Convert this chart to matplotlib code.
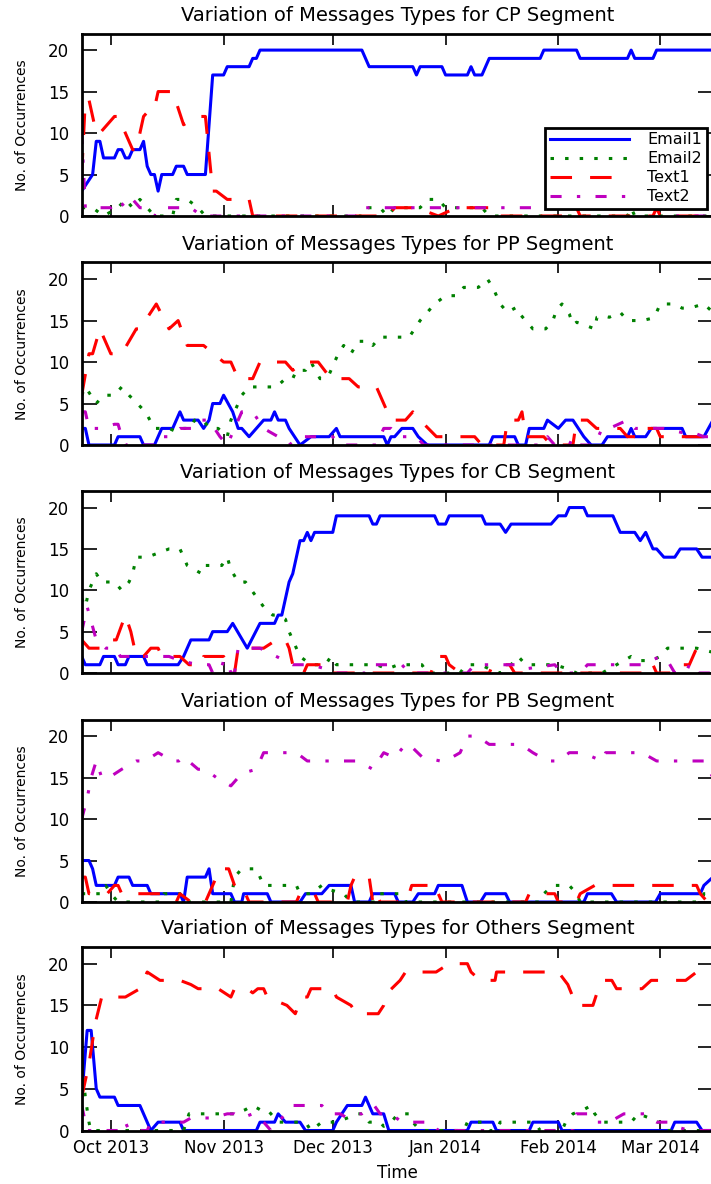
import matplotlib
matplotlib.use('Agg')
import matplotlib.pyplot as plt
import matplotlib.dates as mdates
import pandas as pd

plt.rcParams['font.family'] = ['DejaVu Sans']
plt.rcParams['lines.scale_dashes'] = False

START = pd.Timestamp('2013-09-23')
SERIES = ['Email1', 'Email2', 'Text1', 'Text2']
SEGMENTS = ['CP', 'PP', 'CB', 'PB', 'Others']

# ---- data: day offsets from START and values (vertices of each series) ----
# CP
cp_e1_d = [0,3,4,5,6,9,10,11,12,13,14,16,17,18,19,20,21,22,25,26,28,29,34,36,39,40,46,47,48,49,77,79,91,92,93,99,100,106,107,108,110,112,126,127,136,137,150,151,152,157,158,173.5]
cp_e1_v = [3,5,9,9,7,7,8,8,7,7,8,8,9,6,5,5,3,5,5,6,6,5,5,17,17,18,18,19,19,20,20,18,18,17,18,18,17,17,18,17,17,19,19,20,20,19,19,20,19,19,20,20]
cp_e2_d = [0,3,6,10,12,14,16,18,20,25,26,29,32,34,77,78,82,84,86,93,95,98,100,110,112,150,151,152,173.5]
cp_e2_v = [1,1,0,1,2,1,2,1,0,0,2,2,1,0,0,1,1,0,1,1,2,2,1,1,0,0,1,0,0]
cp_t1_d = [0,1,2,4,5,9,10,14,15,17,19,20,21,25,28,32,34,36,37,40,46,47,84,86,92,98,103,112,113,135,136,137,157,158,159,173.5]
cp_t1_v = [5,14,14,10,10,12,12,8,8,12,13,13,15,15,11,12,12,3,3,2,2,0,0,1,1,0,1,1,0,0,1,0,0,1,0,0]
cp_t2_d = [0,1,8,10,12,14,16,18,20,22,30,33,77,78,160,161,173.5]
cp_t2_v = [10,1,1,2,1,2,1,1,0,1,1,0,0,1,1,0,0]

# PP
pp_e1_d = [0,1,2,9,10,16,17,20,22,25,27,28,32,33.5,35,36,38,39,41.5,43,44,46,48,50,52,53,54,56,57,60,63,68,70,71,83,84,85,86,88,91,92.5,95,112,113,119,120,122,123,127,128,131,133,135,136.5,138,140,143,144.5,150,151,152,155,156.5,165,166,171,173.5]
pp_e1_v = [2,2,0,0,1,1,0,0,2,2,4,3,3,2,3,5,5,6,4,2,2,1,2,3,3,4,3,3,2,0,1,1,2,1,1,0,1,1,2,2,1,0,0,1,1,0,0,2,2,3,2,3,3,2,1,0,0,1,1,2,1,1,2,2,1,1,3]
pp_e2_d = [0,1,4,6,9,11,13,17.5,20,24,26.5,28,30,31,33.5,35,37.5,40,41,43,44,46,53.5,56,58,59,61.5,63,65.5,67,68,69.5,70.5,72,74,76,79,80,82,90,93,95,97,100,103,105,109,111.5,113,115,117,119.5,120,122,124,127.5,129.5,130.5,132,134,135,136,138,141,141.6,143,145,148,150,154,157,158,159,163,165,167,171,173.5]
pp_e2_v = [6,7,5,6,6,7,6,4,2,2,1.5,2,2,3,3,2,2,1,3,5,6,7,7,8,8,9,9,10,8,8,8.5,10,11,12,11,12.5,12.5,12,13,13,15,16,17,18,18,19,19,20,19,17,16,16.6,16,15,14,14,15,16.3,17,15.8,14.5,14.8,14.5,14,15.4,15.6,15.4,16,15,15,15.3,16,17,17,16.5,16.5,17,16]
pp_t1_d = [0,2,3,5,8,11,15,16,20.5,24,26.5,29,33.5,39,41,43,47,49,56,58,61,65,68.5,70,73.5,76,81,85,89,91,93,97.5,101.5,104,108,110,116,117,120,121,122,127,129,135,136,139,141.5,146,148,150,153,154,158,159,173.5]
pp_t1_v = [6,11,11,14,11,11,14,14,17,14,15,12,12,10,10,8,8,10,10,9,10,10,8,8,8,7,7,3,3,4,3,1,1,1,1,0,0,3,3,4,1,1,0,0,3,3,2,2,2,1,1,2,2,1,1]
pp_t2_d = [0,1,2,5,9,10,11,12,20,21,24,27,31,33,35,38,40,42,44,47,50,54,57,60,69,71,81,83,85,87,92,94,127,128,130,134,135,137,141,143,145,150,152,160,165,168,171,173.5]
pp_t2_v = [4,4,2,2,2.5,2.5,1,0,0,1,1,2,2,3,3,1,0,2,4,4,2,1,0,1,1,0,0,2,2,1,1,0,0,1,0,0,1,0,0,2,2,3,2,2,1.5,1.5,1,1]

# CB
cb_e1_d = [0,1,5,6,9,10,12,13,17,18,26.5,28,30,35,36,40,41.5,45.5,49,53,54,55,57,58,60,61,62,63,64,69,70,79,80,81,82,97,98,100,101,110,111,115,116.5,118,129,131,133,134,138,139,146,148,152,153.5,155,156,157,158,160,163,164.5,169,170.5,173.5]
cb_e1_v = [2,1,1,2,2,1,1,2,2,1,1,2,4,4,5,5,6,3,6,6,7,7,11,12,16,16,17,16,17,17,19,19,18,18,19,19,18,18,19,19,18,18,17,18,18,19,19,20,20,19,19,17,17,16,17,16,15,15,14,14,15,15,14,14]
cb_e2_d = [0,1,2,4,5.5,9,11,13,14,15,18,21,24,27,29,31,33,34,38.5,40,41,43,45,46.7,50,52.5,54,56,57,59,60,63,67,68.5,70,81,84,87,93.5,95,104,105.6,109.6,112,115,118,120,122,130,133.6,136,143,147,151,153,156.5,159,161,169,173.5]
cb_e2_v = [9,8,10,12,11,11,10,11,12,14,14,14.5,15,15,13,12.5,12,13,13,14,12.5,11,11,10,8,7,7,6.5,5,3,2,1,1,2,1,1,0.5,1,1,0,0,1,1,0.5,0,1,2,1,1,0.5,0,0,1,2,1.5,1.5,2,3,3,2.5]
cb_t1_d = [0,2,5.5,7,9.5,12,13.5,15,17,19,21,22,27,29.5,33,33.5,39,40,42,43,50,53.5,56,57,58,60,61,62,68,69,96,97.6,100,101,104,112,113,117.6,119,156,157,158,163,164.5,167,169,173.5]
cb_t1_v = [4,3,3,4,4,7,5,2,2,3,3,2,2,1,1,2,2,1,0,3,3,4,4,3,1,1,0,1,1,0,0,2,2,1,0,0,1,1,0,0,1,0,0,1,1,3,3]
cb_t2_d = [0,1.5,4,6.6,9.5,10.6,17,24,27,32,35,36,38,39,40,41,42,43,44,49,53.5,58,63,67,70,78,79,88,90,106,108,120,122,130,132,137,139,154,159,161,163,166,167,168,173.5]
cb_t2_v = [5,8,4,3,3,2,2,2,1.5,1,1,0,0,1.5,1.5,0,0,3,3,3,2,1,1,0.5,0,0,1,1,0,0,1,1,0.5,1,0,0,1,1,2,1.5,0,0,1,0,0]

# PB
pb_e1_d = [0,2,3,4,9,10,13,14,18,19,27,28,29,34,35,36,41,42,44,44.5,51,52,60,61.5,66,68,74,75,79,80,86,87,91,92.5,97,98,104.5,106,109.6,111,116.5,117.6,138,139,145.6,147,157.7,159,170,171,173.5]
pb_e1_v = [5,5,4,2,2,3,3,2,2,1,1,0,3,3,4,1,1,0,0,1,1,0,0,1,1,2,2,0,0,1,1,0,0,1,1,2,2,0,0,1,1,0,0,1,1,0,0,1,1,2,3]
pb_e2_d = [0,1,5.5,6.6,8,10,22,22.6,27,28,41,42,44,48,50,54.7,59,60,63,66,68,72,74,81,82,88,89,126,127,129.6,134,136,137,170,171,173.5]
pb_e2_v = [1,1,1,2,1,0,0,1,1,0,0,3,4,4,2,2,2,1,1,2,1.5,1,0,0,1,1,0,0,1,2,2,1,0,0,1,1]
pb_t1_d = [0,1,2,7,9,10,11,21,22,26,27,30,34,35,37,38,40.4,42,43,45,46,59,60,64,65,73,74,75,79,80,81,82,87,88,90,90.7,97.6,98,99,122,123,130,131,136,137,141,169,170,172,173.5]
pb_t1_v = [3,3,1,1,2,2,1,1,1,0,1,0,0,1,3,4,4,2,1,1,0,0,1,1,0,0,2,3,3,0,1,0,0,1,1,2,2,1,0,0,1,1,0,0,1,2,2,1,0,0]
pb_t2_d = [0,1.5,2.6,4,5.5,7.5,11,15,17.5,21,25,26.7,28,32,34,37,41,44,48,50,54,59,62,68,76,80,83,86,89,90,93.5,98.5,100,104,106,108.6,112,118,120.7,124,128,131,134,137.6,143,144,148,154,158,165,171,173.5]
pb_t2_v = [10,12.5,15,17,15,15,16,17,17,18,17,17,17.5,16,16,15,14,15.5,16,18,18,18,17,17,17,16,18,17.4,19,19,17.5,17,17,18,20,20,19,19,19,18,17,17,18,18,17,18,18,18,17,17,17,15]

# Others
ot_e1_d = [0,1.5,2.6,4,5,9,10,16,18,19,21,27,28,48,49,53,54,56,60,61.5,69,70,73,77,78,80,83,84.4,106,107,113,114,123,124,131,132,162,163,169,170.5,173.5]
ot_e1_v = [4,12,12,5,4,4,3,3,1,0,1,1,0,0,1,1,2,1,1,0,0,1,3,3,4,2,2,0,0,1,1,0,0,1,1,0,0,1,1,0,0]
ot_e2_d = [0,1,2,2.5,28,29.5,40,42,45,47,49,51,52,54,61.5,63,66,67,70,73,76,77.6,79,82,83,85,87,90,91,93,105,106,110,112,114,115,124.5,126,132,133,135,138,140,141,143,146,148,151,153,156,158,159,161,173.5]
ot_e2_v = [8,4,1,0,0,2,2,2,2.5,3,2.5,2.5,2,1,1,0,1,1,1,1.5,2,2,1,1,0.5,1,2,2,1,0,0,1,1,0,0,1,1,0,0,1,2,2.5,3,2,1,1,1,1,2,1.5,1,1,0,0]
ot_t1_d = [0,2,3.8,5.5,12,14,16,18,21.5,27,30,32,37.5,41,42,45.5,47,48.4,50,51,56.4,58.7,60.4,62,63,69,70,74,75.6,81.5,83,84,87.5,89,97.4,101,106,107,109.5,113.6,114,119,125,131,133.6,135,136,140.5,142,143.4,145.7,147,152,154,156.5,161,164.5,166,169,173.5]
ot_t1_v = [4,8,13,16,16,16.5,17,19,18,18,17.5,17,17,16,17,17,16.5,17,17,16,15,14,16,16,17,17,16,15,14,14,15,16.5,18,19,19,20,20,19,18,18,19,19,19,19,17.5,16,15,15,17,18,18,17,17,17,18,18,18,18,19,19]
ot_t2_d = [0,1.5,11,12,13,18,19,27,28,30,33,36,40,42,44,47,50,52,56,58,60,63,66,68,71,73,76,77,80.4,82,85,88,92,96,98,135,136,139.5,141,145,147,149,155,156,158,161,163,167,173.5]
ot_t2_v = [3,0,0,1,0,0,1,1,1,1.5,1.5,1.5,2,2,1.5,2,1,0,2,3,3,3,3,2,2,1.5,2,2,3,2,2,1,1,1,0,0,2,2,1,1,1.5,2,2,1.5,1,1,0.5,0,0]

DATA = {
    'CP': [(cp_e1_d, cp_e1_v), (cp_e2_d, cp_e2_v), (cp_t1_d, cp_t1_v), (cp_t2_d, cp_t2_v)],
    'PP': [(pp_e1_d, pp_e1_v), (pp_e2_d, pp_e2_v), (pp_t1_d, pp_t1_v), (pp_t2_d, pp_t2_v)],
    'CB': [(cb_e1_d, cb_e1_v), (cb_e2_d, cb_e2_v), (cb_t1_d, cb_t1_v), (cb_t2_d, cb_t2_v)],
    'PB': [(pb_e1_d, pb_e1_v), (pb_e2_d, pb_e2_v), (pb_t1_d, pb_t1_v), (pb_t2_d, pb_t2_v)],
    'Others': [(ot_e1_d, ot_e1_v), (ot_e2_d, ot_e2_v), (ot_t1_d, ot_t1_v), (ot_t2_d, ot_t2_v)],
}

STYLES = [
    dict(color=(0, 0, 1), linestyle='-'),
    dict(color=(0, 0.5, 0), dashes=(2.5, 8.0), dash_capstyle='butt'),
    dict(color=(1, 0, 0), dashes=(15.5, 13.0), dash_capstyle='butt'),
    dict(color=(0.75, 0, 0.75), dashes=(8.0, 11.0, 2.4, 11.0), dash_capstyle='butt'),
]

W, H = 711, 1184
fig = plt.figure(figsize=(W / 100, H / 100), dpi=100)

left_px, right_px = 81.7, 713.0
panel_px = [(33.5, 216.0), (262.5, 445.0), (491.0, 673.0), (719.5, 902.0), (947.0, 1130.5)]

x0 = START
x1 = START + pd.Timedelta(days=173.5)

axes = []
for i, seg in enumerate(SEGMENTS):
    top, bot = panel_px[i]
    ax = fig.add_axes([left_px / W, 1 - bot / H, (right_px - left_px) / W, (bot - top) / H])
    axes.append(ax)
    for (d, v), name, st in zip(DATA[seg], SERIES, STYLES):
        dates = START + pd.to_timedelta(d, unit='D')
        ax.plot(dates, v, lw=2.2, label=name, **st)
    ax.set_xlim(x0, x1)
    ax.set_ylim(0, 22)
    ax.set_yticks([0, 5, 10, 15, 20])
    ax.xaxis.set_major_locator(mdates.MonthLocator())
    ax.xaxis.set_major_formatter(mdates.DateFormatter('%b %Y'))
    ax.tick_params(axis='both', direction='in', top=True, right=True, labelsize=12, width=1.2)
    ax.tick_params(axis='x', length=7.7, pad=6)
    ax.tick_params(axis='y', length=10.8, pad=9)
    if i < len(SEGMENTS) - 1:
        ax.tick_params(axis='x', labelbottom=False)
    for sp in ax.spines.values():
        sp.set_linewidth(2.0)
    ax.set_title(f'Variation of Messages Types for {seg} Segment', fontsize=14, pad=9)
    ax.set_ylabel('No. of Occurrences', fontsize=10, labelpad=14)

axes[-1].set_xlabel('Time', fontsize=12, labelpad=5)

leg = axes[0].legend(loc='lower right', bbox_to_anchor=(0.990, 0.037), borderaxespad=0,
                     fancybox=False, framealpha=1, edgecolor='black', fontsize=11.5,
                     handlelength=5.0, handletextpad=1.1, labelspacing=0.25, borderpad=0.3)
leg.get_frame().set_linewidth(2.0)

fig.savefig('out.png', dpi=100)
